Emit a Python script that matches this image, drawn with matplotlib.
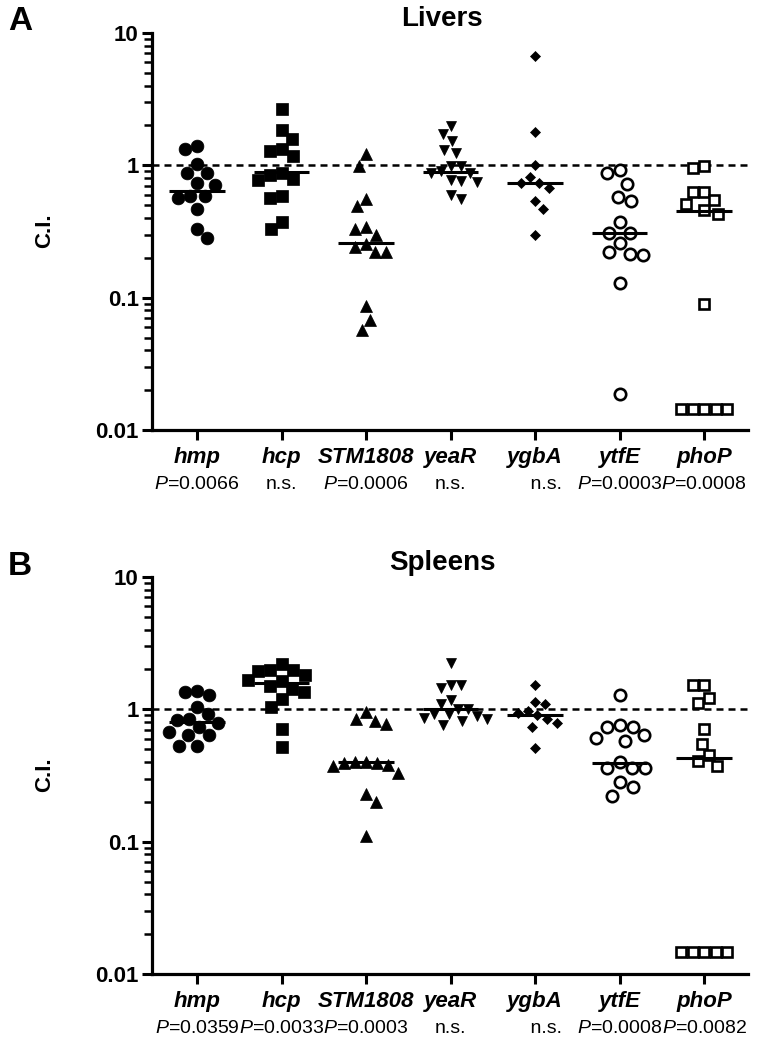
import numpy as np
import matplotlib
matplotlib.use("Agg")
import matplotlib.pyplot as plt
from matplotlib.ticker import LogLocator, NullFormatter

plt.rcParams['font.family'] = ['Liberation Sans', 'DejaVu Sans']
plt.rcParams['mathtext.fontset'] = 'custom'
plt.rcParams['mathtext.rm'] = 'Liberation Sans'
plt.rcParams['mathtext.it'] = 'Liberation Sans:italic'
plt.rcParams['mathtext.bf'] = 'Liberation Sans:bold'

genes = ['hmp', 'hcp', 'STM1808', 'yeaR', 'ygbA', 'ytfE', 'phoP']

# competitive index values, livers
livers_hmp = [1.32, 1.40, 1.03, 0.88, 0.88, 0.73, 0.71, 0.59, 0.57, 0.59, 0.47, 0.33, 0.28]
livers_hcp = [2.66, 1.84, 1.57, 1.32, 1.28, 1.18, 0.85, 0.88, 0.78, 0.79, 0.59, 0.57, 0.37, 0.33]
livers_stm = [1.21, 0.99, 0.49, 0.56, 0.33, 0.30, 0.34, 0.24, 0.22, 0.22, 0.255, 0.086, 0.068, 0.057]
livers_year = [1.99, 1.72, 1.53, 1.25, 1.31, 0.99, 0.99, 0.91, 0.87, 0.78, 0.88, 0.75, 0.76, 0.56, 0.60]
livers_ygba = [6.73, 1.80, 1.00, 0.82, 0.73, 0.73, 0.67, 0.54, 0.47, 0.30]
livers_ytfe = [0.92, 0.88, 0.72, 0.54, 0.58, 0.37, 0.31, 0.31, 0.26, 0.22, 0.21, 0.215, 0.13, 0.0186]
livers_phop = [0.95, 0.99, 0.63, 0.63, 0.51, 0.55, 0.43, 0.46, 0.0895,
               0.0144, 0.0144, 0.0144, 0.0144, 0.0144]
livers_median = [0.64, 0.89, 0.258, 0.89, 0.73, 0.31, 0.45]
livers_p = [r'$\it{P}$=0.0066', 'n.s.', r'$\it{P}$=0.0006', 'n.s.', '    n.s.',
            r'$\it{P}$=0.0003', r'$\it{P}$=0.0008']

# competitive index values, spleens
spleens_hmp = [1.35, 1.28, 1.37, 1.04, 0.93, 0.85, 0.79, 0.83, 0.73, 0.64, 0.67, 0.64, 0.53, 0.53]
spleens_hcp = [2.19, 1.98, 1.98, 1.95, 1.68, 1.81, 1.64, 1.50, 1.42, 1.35, 1.19, 1.04, 0.71, 0.52]
spleens_stm = [0.95, 0.82, 0.78, 0.84, 0.40, 0.39, 0.37, 0.38, 0.39, 0.40, 0.33, 0.23, 0.20, 0.11]
spleens_year = [2.25, 1.52, 1.46, 1.54, 1.09, 1.18, 1.00, 1.01, 0.92, 0.86, 0.89, 0.92, 0.82, 0.76, 0.84]
spleens_ygba = [1.52, 1.09, 1.14, 0.90, 0.97, 0.94, 0.84, 0.79, 0.74, 0.51]
spleens_ytfe = [1.28, 0.76, 0.74, 0.73, 0.64, 0.58, 0.61, 0.40, 0.36, 0.36, 0.36, 0.28, 0.26, 0.22]
spleens_phop = [1.53, 1.53, 1.21, 1.11, 0.71, 0.55, 0.41, 0.37, 0.45,
                0.0147, 0.0147, 0.0147, 0.0147, 0.0147]
spleens_median = [0.80, 1.57, 0.40, 1.00, 0.91, 0.39, 0.43]
spleens_p = [r'$\it{P}$=0.0359', r'$\it{P}$=0.0033', r'$\it{P}$=0.0003', 'n.s.', '    n.s.',
             r'$\it{P}$=0.0008', r'$\it{P}$=0.0082']

livers = [livers_hmp, livers_hcp, livers_stm, livers_year, livers_ygba, livers_ytfe, livers_phop]
spleens = [spleens_hmp, spleens_hcp, spleens_stm, spleens_year, spleens_ygba, spleens_ytfe, spleens_phop]

# marker, size (pt), filled, collision width (px)
styles = [('o', 9.2, True, 12), ('s', 8.6, True, 12), ('^', 8.2, True, 11),
          ('v', 7.6, True, 10), ('D', 5.4, True, 10), ('o', 8.2, False, 13),
          ('s', 7.6, False, 11.5)]

W, H = 762, 1045
XMIN, XMAX = -0.533, 6.52
PX_PER_CAT = 596 / (XMAX - XMIN)
PX_DECADE = 397 / 3.0


def swarm(vals, dx, stretch=1.3):
    # beeswarm in pixel space, with a slightly taller collision ellipse so that
    # points with close values spread out sideways like the original
    dy = dx * stretch
    ypx = np.log10(vals) * PX_DECADE
    order = np.argsort(-ypx, kind='stable')
    px, py = [], []
    offs = np.zeros(len(vals))
    for n, i in enumerate(order):
        k = 0.0
        found = None
        while found is None:
            cands = [0.0] if k == 0 else ([k, -k] if n % 2 == 0 else [-k, k])
            for c in cands:
                if all(((c - a) / dx) ** 2 + ((ypx[i] - b) / dy) ** 2 >= 1
                       for a, b in zip(px, py)):
                    found = c
                    break
            k += 0.5
        offs[i] = found
        px.append(found)
        py.append(ypx[i])
    return offs / PX_PER_CAT


def panel(ax, groups, medians, plabels, title):
    ax.set_yscale('log')
    ax.set_ylim(0.01, 10)
    ax.set_xlim(XMIN, XMAX)
    ax.axhline(1, color='black', lw=1.8, ls=(0, (2.8, 2.0)), zorder=1)
    for i, vals in enumerate(groups):
        m, ms, filled, d = styles[i]
        xs = i + swarm(vals, d)
        if filled:
            ax.plot(xs, vals, m, ms=ms, color='black', mec='black', mew=0.5, zorder=2)
        else:
            ax.plot(xs, vals, m, ms=ms, mfc='white', mec='black', mew=1.9, zorder=2)
        ax.hlines(medians[i], i - 0.33, i + 0.33, color='black', lw=2.2, zorder=3)
        ax.annotate(genes[i], xy=(i, 0), xycoords=('data', 'axes fraction'),
                    xytext=(0, -12), textcoords='offset points', ha='center', va='top',
                    fontsize=16, fontweight='bold', fontstyle='italic')
        ax.annotate(plabels[i], xy=(i, 0), xycoords=('data', 'axes fraction'),
                    xytext=(0, -33), textcoords='offset points', ha='center', va='top',
                    fontsize=14)
    for s in ('top', 'right'):
        ax.spines[s].set_visible(False)
    for s in ('left', 'bottom'):
        ax.spines[s].set_linewidth(2.3)
    ax.set_yticks([0.01, 0.1, 1, 10], labels=['0.01', '0.1', '1', '10'])
    ax.yaxis.set_minor_locator(LogLocator(base=10, subs=np.arange(2, 10)))
    ax.yaxis.set_minor_formatter(NullFormatter())
    ax.set_xticks(range(len(genes)), labels=[''] * len(genes))
    ax.tick_params(axis='both', which='major', direction='out', length=7.5, width=2.2,
                   labelsize=16, pad=2)
    ax.tick_params(axis='y', which='minor', direction='out', length=5.5, width=1.8)
    for lab in ax.get_yticklabels():
        lab.set_fontweight('bold')
    ax.set_title(title, fontsize=20, fontweight='bold', pad=5, x=0.487)


fig = plt.figure(figsize=(W / 100, H / 100), dpi=100)
axA = fig.add_axes([152 / W, 1 - 430 / H, 596 / W, 397 / H])
axB = fig.add_axes([152 / W, 1 - 974 / H, 596 / W, 397 / H])
panel(axA, livers, livers_median, livers_p, 'Livers')
panel(axB, spleens, spleens_median, spleens_p, 'Spleens')

fig.text(45 / W, 1 - 231 / H, 'C.I.', rotation=90, ha='center', va='center',
         fontsize=16, fontweight='bold')
fig.text(45 / W, 1 - 775 / H, 'C.I.', rotation=90, ha='center', va='center',
         fontsize=16, fontweight='bold')
fig.text(8 / W, 1 - 6 / H, 'A', ha='left', va='top', fontsize=24, fontweight='bold')
fig.text(8 / W, 1 - 551 / H, 'B', ha='left', va='top', fontsize=24, fontweight='bold')

fig.savefig('out.png', dpi=100)
